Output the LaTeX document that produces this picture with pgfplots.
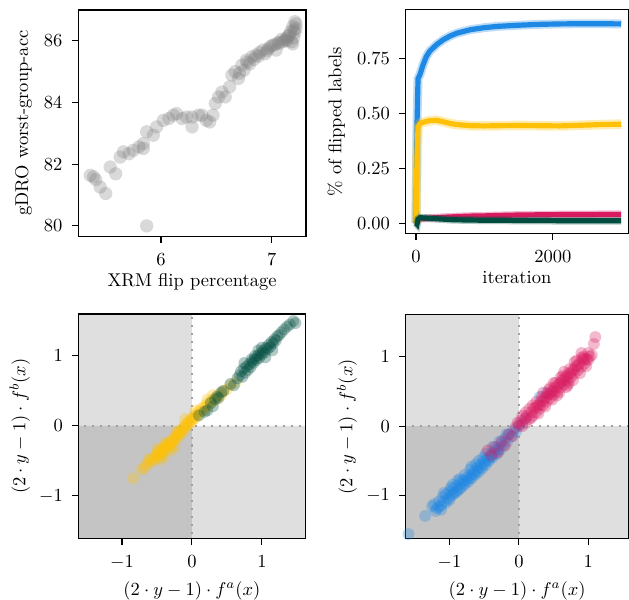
\documentclass[border=0pt]{standalone}
\usepackage{pgfplots}
\pgfplotsset{compat=1.18}
\definecolor{cblue}{HTML}{1E88E5}
\definecolor{cyellow}{HTML}{FFC107}
\definecolor{cpink}{HTML}{D81B60}
\definecolor{cgreen}{HTML}{004D40}
\definecolor{qlight}{HTML}{DFDFDF}
\definecolor{qdark}{HTML}{C4C4C4}
\definecolor{dotgray}{HTML}{A0A0A0}

\pgfplotsset{
  mplstyle/.style={
    scale only axis,
    axis on top,
    axis line style={line width=0.6pt},
    tick align=outside,
    tick pos=left,
    major tick length=3.5pt,
    every tick/.style={black, line width=0.6pt},
    xticklabel style={yshift=-2.2pt},
    yticklabel style={xshift=-1.5pt},
    xlabel style={yshift=2.3pt},
    ylabel style={yshift=-0.4pt},
  },
  mathlabels/.style={
    xlabel style={yshift=-2pt},
    ylabel style={yshift=-1.5pt},
  },
  dots/.style 2 args={only marks, mark=*, mark size=#2, color=#1,
    mark options={draw opacity=0, fill opacity=0.3}},
  zeroline/.style={dotgray, line width=1.1pt, dash pattern=on 1.1pt off 3.2pt},
}

\begin{document}
\begin{tikzpicture}
\path[use as bounding box] (0,0) rectangle (340pt,-324.3pt);

% top left: gDRO vs XRM flip percentage
\begin{axis}[mplstyle,
  at={(42.2pt,-5.4pt)}, anchor=north west,
  width=123.2pt, height=122.2pt,
  xmin=5.25, xmax=7.31, ymin=79.67, ymax=87.0,
  xtick={6,7}, ytick={80,82,84,86},
  xlabel={XRM flip percentage},
  ylabel={gDRO worst-group-acc},
]
\addplot[dots={gray}{3.6pt}] coordinates {
(5.36,81.64) (5.39,81.59) (5.41,81.5) (5.45,81.26) (5.50,81.05) (5.54,81.91) (5.59,81.69)
(5.63,82.23) (5.66,82.40) (5.71,82.34) (5.75,82.45) (5.80,82.56) (5.84,82.51) (5.84,82.67)
(5.87,83.05) (5.93,82.94) (5.96,83.21) (6.02,83.42) (6.07,83.48) (6.11,83.59) (6.14,83.64)
(6.19,83.48) (6.23,83.53) (6.28,83.21) (6.28,83.53) (6.34,83.59) (6.37,83.59) (6.41,83.42)
(6.44,83.37) (6.47,83.59) (6.49,83.97) (6.52,84.18) (6.55,84.34) (6.58,84.18) (6.62,84.51)
(6.64,84.89) (6.67,85.00) (6.70,84.78) (6.73,85.21) (6.75,85.05) (6.77,85.37) (6.80,85.25)
(6.82,85.48) (6.84,85.40) (6.86,85.54) (6.89,85.62) (6.92,85.70) (6.94,85.58) (6.97,85.75)
(6.99,85.82) (7.01,85.86) (7.04,85.70) (7.06,85.95) (7.07,85.92) (7.09,86.05) (7.10,85.97)
(7.12,86.02) (7.13,86.08) (7.15,86.15) (7.16,86.19) (7.17,86.30) (7.18,85.97) (7.19,86.46)
(7.20,86.10) (7.21,86.62) (7.21,86.27) (7.22,86.40) (7.19,85.90) (7.22,86.55) (7.20,86.35)
(6.78,85.30) (6.88,85.50) (6.96,85.68) (7.03,85.88) (7.14,86.00) (6.71,84.95)
(5.87,80.0)
};
\end{axis}

% top right: flipped labels over iterations
\begin{axis}[mplstyle,
  at={(219.3pt,-5.0pt)}, anchor=north west,
  width=120.2pt, height=121.4pt,
  xmin=-150, xmax=3100, ymin=-0.049, ymax=0.977,
  xtick={0,2000}, ytick={0,0.25,0.5,0.75},
  xticklabel style={/pgf/number format/1000 sep={}},
  yticklabel style={/pgf/number format/.cd, fixed, fixed zerofill, precision=2},
  xlabel={iteration},
  ylabel={\% of flipped labels},
]
\pgfplotstableread{
it blue yellow pink green
0 0.000 0.000 0.000 0.000
15 0.450 0.300 0.010 -0.005
30 0.660 0.440 0.015 0.018
60 0.680 0.455 0.020 0.025
100 0.720 0.460 0.021 0.024
150 0.760 0.465 0.022 0.023
200 0.785 0.468 0.023 0.022
300 0.815 0.470 0.025 0.020
400 0.838 0.463 0.027 0.018
500 0.855 0.455 0.028 0.016
600 0.868 0.450 0.030 0.015
800 0.884 0.445 0.032 0.014
1000 0.893 0.444 0.033 0.013
1200 0.899 0.445 0.035 0.013
1500 0.904 0.446 0.037 0.012
1800 0.908 0.445 0.038 0.012
2100 0.910 0.444 0.039 0.011
2400 0.911 0.447 0.039 0.011
2700 0.911 0.450 0.040 0.011
3000 0.910 0.452 0.040 0.011
}\flips
\addplot[cblue, opacity=0.3, line width=4.8pt] table[x=it, y=blue] {\flips};
\addplot[cblue, line width=2.8pt] table[x=it, y=blue] {\flips};
\addplot[cpink, opacity=0.3, line width=4.2pt] table[x=it, y=pink] {\flips};
\addplot[cpink, line width=2.8pt] table[x=it, y=pink] {\flips};
\addplot[cyellow, opacity=0.3, line width=5.2pt] table[x=it, y=yellow] {\flips};
\addplot[cyellow, line width=2.8pt] table[x=it, y=yellow] {\flips};
\addplot[cgreen, opacity=0.3, line width=4.2pt] table[x=it, y=green] {\flips};
\addplot[cgreen, line width=2.8pt] table[x=it, y=green] {\flips};
\end{axis}

% bottom left
\begin{axis}[mplstyle, mathlabels,
  at={(42.5pt,-169.7pt)}, anchor=north west,
  width=122.5pt, height=121.4pt,
  xmin=-1.62, xmax=1.62, ymin=-1.61, ymax=1.6,
  xtick={-1,0,1}, ytick={-1,0,1},
  xlabel={$(2\cdot y-1)\cdot f^a(x)$},
  ylabel={$(2\cdot y-1)\cdot f^b(x)$},
]
\addplot[draw=none, fill=qlight] coordinates {(-2,0) (0,0) (0,2) (-2,2) (-2,0)};
\addplot[draw=none, fill=qlight] coordinates {(0,-2) (2,-2) (2,0) (0,0) (0,-2)};
\addplot[draw=none, fill=qdark] coordinates {(-2,-2) (0,-2) (0,0) (-2,0) (-2,-2)};
\addplot[zeroline] coordinates {(0,-2) (0,2)};
\addplot[zeroline] coordinates {(-2,0) (2,0)};
\addplot[dots={cyellow}{3.2pt}] coordinates {
(-0.84,-0.75) (-0.72,-0.62) (-0.68,-0.60) (-0.65,-0.55) (-0.60,-0.52) (-0.58,-0.47)
(-0.55,-0.50) (-0.53,-0.44) (-0.50,-0.45) (-0.50,-0.40) (-0.48,-0.38) (-0.46,-0.42)
(-0.45,-0.34) (-0.43,-0.39) (-0.42,-0.33) (-0.40,-0.36) (-0.39,-0.30) (-0.37,-0.32)
(-0.36,-0.27) (-0.34,-0.30) (-0.33,-0.25) (-0.31,-0.28) (-0.30,-0.22) (-0.28,-0.24)
(-0.27,-0.19) (-0.25,-0.21) (-0.24,-0.15) (-0.22,-0.18) (-0.21,-0.12) (-0.19,-0.15)
(-0.18,-0.09) (-0.16,-0.11) (-0.15,-0.05) (-0.13,-0.08) (-0.12,-0.02) (-0.10,-0.04)
(-0.09,0.02) (-0.07,0.00) (-0.06,0.05) (-0.04,0.03) (-0.03,0.08) (-0.01,0.06)
(0.00,0.10) (0.02,0.09) (0.03,0.14) (0.05,0.12) (0.06,0.17) (0.08,0.15)
(0.10,0.21) (0.12,0.19) (0.14,0.25) (0.16,0.22) (0.18,0.28) (0.20,0.26)
(0.22,0.32) (0.25,0.30) (0.27,0.36) (0.30,0.35) (0.33,0.40) (0.36,0.38)
(0.38,0.45) (0.42,0.44) (0.45,0.50) (0.50,0.52) (0.55,0.58) (0.62,0.62)
(0.22,0.38) (0.30,0.44) (-0.30,-0.35) (-0.45,-0.48) (-0.38,-0.24) (-0.22,-0.08)
(-0.50,-0.33) (-0.10,0.10) (-0.25,-0.30) (-0.40,-0.44) (0.05,0.22) (-0.62,-0.48)
};
\addplot[dots={cgreen}{3.2pt}] coordinates {
(0.10,0.15) (0.18,0.20) (0.22,0.22) (0.27,0.33) (0.30,0.28) (0.33,0.38) (0.36,0.42)
(0.38,0.40) (0.42,0.48) (0.45,0.50) (0.55,0.60) (0.60,0.58) (0.65,0.68) (0.68,0.72)
(0.70,0.78) (0.72,0.70) (0.74,0.82) (0.76,0.76) (0.78,0.85) (0.80,0.80) (0.82,0.88)
(0.84,0.84) (0.86,0.92) (0.88,0.90) (0.90,0.96) (0.92,0.94) (0.94,1.00) (0.96,0.97)
(0.98,1.04) (1.00,1.02) (1.02,1.08) (1.04,1.05) (1.06,1.12) (1.08,1.10) (1.10,1.16)
(1.12,1.13) (1.14,1.20) (1.16,1.18) (1.18,1.24) (1.20,1.22) (1.22,1.28) (1.25,1.30)
(1.28,1.34) (1.32,1.38) (1.36,1.42) (1.40,1.45) (1.45,1.50) (1.48,1.47) (1.05,0.98)
(0.95,1.08) (0.75,0.90) (1.15,1.08) (0.85,0.95) (1.00,1.12) (0.90,1.00)
};
\end{axis}

% bottom right
\begin{axis}[mplstyle, mathlabels,
  at={(219.3pt,-170.1pt)}, anchor=north west,
  width=120.5pt, height=121.2pt,
  xmin=-1.63, xmax=1.58, ymin=-1.62, ymax=1.6,
  xtick={-1,0,1}, ytick={-1,0,1},
  xlabel={$(2\cdot y-1)\cdot f^a(x)$},
  ylabel={$(2\cdot y-1)\cdot f^b(x)$},
]
\addplot[draw=none, fill=qlight] coordinates {(-2,0) (0,0) (0,2) (-2,2) (-2,0)};
\addplot[draw=none, fill=qlight] coordinates {(0,-2) (2,-2) (2,0) (0,0) (0,-2)};
\addplot[draw=none, fill=qdark] coordinates {(-2,-2) (0,-2) (0,0) (-2,0) (-2,-2)};
\addplot[zeroline] coordinates {(0,-2) (0,2)};
\addplot[zeroline] coordinates {(-2,0) (2,0)};
\addplot[dots={cblue}{3.2pt}] coordinates {
(-1.59,-1.55) (-1.35,-1.29) (-1.22,-1.12) (-1.18,-1.18) (-1.15,-1.08) (-1.12,-1.14)
(-1.10,-1.02) (-1.08,-1.08) (-1.05,-0.98) (-1.02,-1.04) (-1.00,-0.94) (-0.98,-1.00)
(-0.95,-0.90) (-0.93,-0.96) (-0.90,-0.86) (-0.88,-0.92) (-0.85,-0.82) (-0.83,-0.88)
(-0.80,-0.78) (-0.78,-0.84) (-0.75,-0.74) (-0.73,-0.80) (-0.70,-0.70) (-0.68,-0.75)
(-0.65,-0.65) (-0.63,-0.70) (-0.60,-0.60) (-0.58,-0.66) (-0.55,-0.55) (-0.53,-0.61)
(-0.50,-0.50) (-0.48,-0.56) (-0.45,-0.45) (-0.43,-0.50) (-0.40,-0.40) (-0.38,-0.45)
(-0.35,-0.35) (-0.32,-0.40) (-0.30,-0.30) (-0.27,-0.34) (-0.25,-0.25) (-0.22,-0.28)
(-0.20,-0.18) (-0.17,-0.22) (-0.14,-0.12) (-0.10,-0.14) (-0.08,-0.06) (-0.04,-0.08)
(0.00,0.00) (0.05,0.04) (0.10,0.12) (0.30,0.42) (0.40,0.48) (-1.12,-1.20)
(-0.95,-0.84) (-0.70,-0.62)
(-1.20,-1.22) (-1.15,-1.16) (-1.05,-1.10) (-1.00,-1.06) (-0.95,-0.98) (-0.90,-0.95)
(-0.85,-0.90) (-0.80,-0.83) (-0.75,-0.78) (-0.70,-0.74) (-0.65,-0.69) (-0.60,-0.64)
(-0.55,-0.59) (-0.50,-0.54) (-0.45,-0.49) (-0.40,-0.44) (-0.35,-0.39) (-0.30,-0.34)
(-1.08,-0.96) (-0.98,-0.88) (-0.88,-0.78) (-0.78,-0.70) (-0.68,-0.58) (-0.58,-0.50)
(-0.48,-0.40) (-0.38,-0.30) (-0.28,-0.22) (-0.18,-0.12) (-0.85,-0.76) (-1.25,-1.15)
(-0.62,-0.55) (-0.52,-0.46)
};
\addplot[dots={cpink}{3.2pt}] coordinates {
(-0.45,-0.35) (-0.40,-0.42) (-0.35,-0.30) (-0.30,-0.38) (-0.25,-0.22) (-0.20,-0.28)
(-0.15,-0.12) (-0.10,-0.15) (-0.05,-0.02) (0.00,0.02) (0.03,0.08) (0.05,0.00)
(0.08,0.10) (0.10,0.05) (0.12,0.15) (0.15,0.10) (0.18,0.20) (0.20,0.15)
(0.22,0.26) (0.25,0.20) (0.27,0.30) (0.30,0.25) (0.32,0.36) (0.35,0.30)
(0.37,0.40) (0.40,0.35) (0.42,0.46) (0.45,0.40) (0.47,0.50) (0.50,0.45)
(0.52,0.56) (0.55,0.50) (0.57,0.60) (0.60,0.55) (0.62,0.66) (0.65,0.60)
(0.67,0.70) (0.70,0.65) (0.72,0.76) (0.75,0.70) (0.77,0.80) (0.80,0.75)
(0.82,0.86) (0.85,0.80) (0.87,0.90) (0.90,0.85) (0.92,0.95) (0.95,0.90)
(0.98,0.96) (1.02,1.00) (1.05,1.02) (1.10,1.28) (1.08,1.18) (0.25,0.35)
(0.45,0.55) (0.70,0.58) (0.35,0.48) (0.60,0.70) (0.80,0.92) (0.90,0.98)
(0.15,0.25) (0.55,0.44)
(0.20,0.30) (0.28,0.18) (0.33,0.42) (0.38,0.28) (0.43,0.52) (0.48,0.38)
(0.53,0.62) (0.58,0.48) (0.63,0.72) (0.68,0.56) (0.73,0.82) (0.78,0.66)
(0.83,0.94) (0.88,0.76) (0.93,1.00) (0.97,0.86) (1.00,1.05) (0.40,0.42)
(0.50,0.50) (0.60,0.62) (0.70,0.72) (0.80,0.82) (0.30,0.30) (0.65,0.66)
(0.75,0.76) (0.85,0.87) (0.55,0.56) (0.45,0.46) (0.35,0.36) (0.95,0.97)
(1.00,0.95) (0.05,0.15) (0.10,0.20) (-0.02,0.05) (0.65,0.78) (0.50,0.62)
(0.72,0.62) (0.90,1.05) (0.25,0.27) (0.18,0.12)
};
\end{axis}
\end{tikzpicture}
\end{document}
